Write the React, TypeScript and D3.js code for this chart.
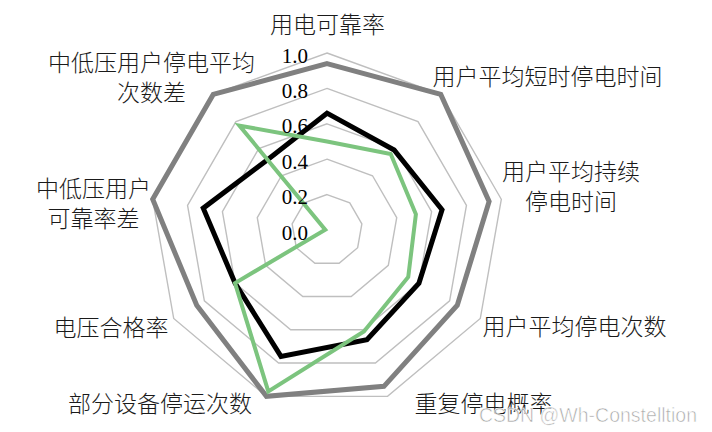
import * as d3 from 'd3';

// axis names, clockwise from the top
const axes = [
  ['用电可靠率'],
  ['用户平均短时停电时间'],
  ['用户平均持续', '停电时间'],
  ['用户平均停电次数'],
  ['重复停电概率'],
  ['部分设备停运次数'],
  ['电压合格率'],
  ['中低压用户', '可靠率差'],
  ['中低压用户停电平均', '次数差'],
];

const seriesGray = [0.94, 1.0, 0.93, 0.85, 0.94, 1.0, 0.85, 1.0, 1.0];
const seriesBlack = [0.66, 0.59, 0.66, 0.6, 0.66, 0.76, 0.6, 0.71, 0.52];
const seriesGreen = [0.5, 0.56, 0.51, 0.53, 0.61, 0.97, 0.6, 0.01, 0.77];

const ticks = [0, 0.2, 0.4, 0.6, 0.8, 1.0];

// layout
const width = 712;
const height = 432;
const cx = 327;
const cy = 230;
const radius = 177;

// label box centres, relative to the chart centre
const labelOffsets = [
  [0.5, -207],
  [220.5, -155],
  [244, -45],
  [247.5, 95],
  [156.5, 172],
  [-167, 172],
  [-216, 96],
  [-233.5, -28],
  [-175.5, -154],
];

const CJK = '"Noto Sans CJK SC", "Noto Sans", sans-serif';

const App = () => {
  const r = d3.scaleLinear().domain([0, 1]).range([0, radius]);
  const angle = d3
    .scaleLinear()
    .domain([0, axes.length])
    .range([0, 2 * Math.PI]);

  const radar = d3
    .lineRadial<number>()
    .angle((_, i) => angle(i))
    .radius((d) => r(d))
    .curve(d3.curveLinearClosed);

  const rings = ticks.filter((t) => t > 0);
  const lh = 30;

  return (
    <svg
      width={width}
      height={height}
      style={{ position: 'absolute', left: 0, top: 0, background: 'white' }}
    >
      <g transform={`translate(${cx},${cy})`}>
        {/* grid rings */}
        {rings.map((t) => (
          <path
            key={t}
            d={radar(axes.map(() => t)) ?? ''}
            fill="none"
            stroke="#bfbfbf"
            strokeWidth={1.4}
          />
        ))}

        <path
          d={radar(seriesGray) ?? ''}
          fill="none"
          stroke="#808080"
          strokeWidth={5}
          strokeLinejoin="miter"
        />
        <path
          d={radar(seriesBlack) ?? ''}
          fill="none"
          stroke="#000000"
          strokeWidth={5}
          strokeLinejoin="miter"
        />
        <path
          d={radar(seriesGreen) ?? ''}
          fill="none"
          stroke="#7cc47e"
          strokeWidth={4}
          strokeLinejoin="miter"
        />

        {/* value labels */}
        {ticks.map((t) => (
          <text
            key={t}
            x={-19}
            y={-r(t) + 2.5}
            textAnchor="end"
            dominantBaseline="central"
            fontFamily='"Liberation Serif", "Times New Roman", serif'
            fontSize={21}
            fill="#000"
          >
            {d3.format('.1f')(t)}
          </text>
        ))}

        {/* axis names, one text per line */}
        {axes.flatMap((lines, i) => {
          const [dx, dy] = labelOffsets[i];
          const y0 = dy - ((lines.length - 1) * lh) / 2;
          return lines.map((line, j) => (
            <text
              key={`${i}-${j}`}
              x={dx}
              y={y0 + j * lh}
              textAnchor="middle"
              dominantBaseline="central"
              fontFamily={CJK}
              fontWeight={300}
              fontSize={23}
              fill="#1a1a1a"
            >
              {line}
            </text>
          ));
        })}
      </g>

      <text
        x={697}
        y={422}
        textAnchor="end"
        fontFamily='"Liberation Sans", Arial, sans-serif'
        fontSize={19.5}
        fill="#9a9a9a"
        fillOpacity={0.85}
        stroke="#ffffff"
        strokeWidth={0.6}
      >
        CSDN @Wh-Constelltion
      </text>
    </svg>
  );
};

export default App;
